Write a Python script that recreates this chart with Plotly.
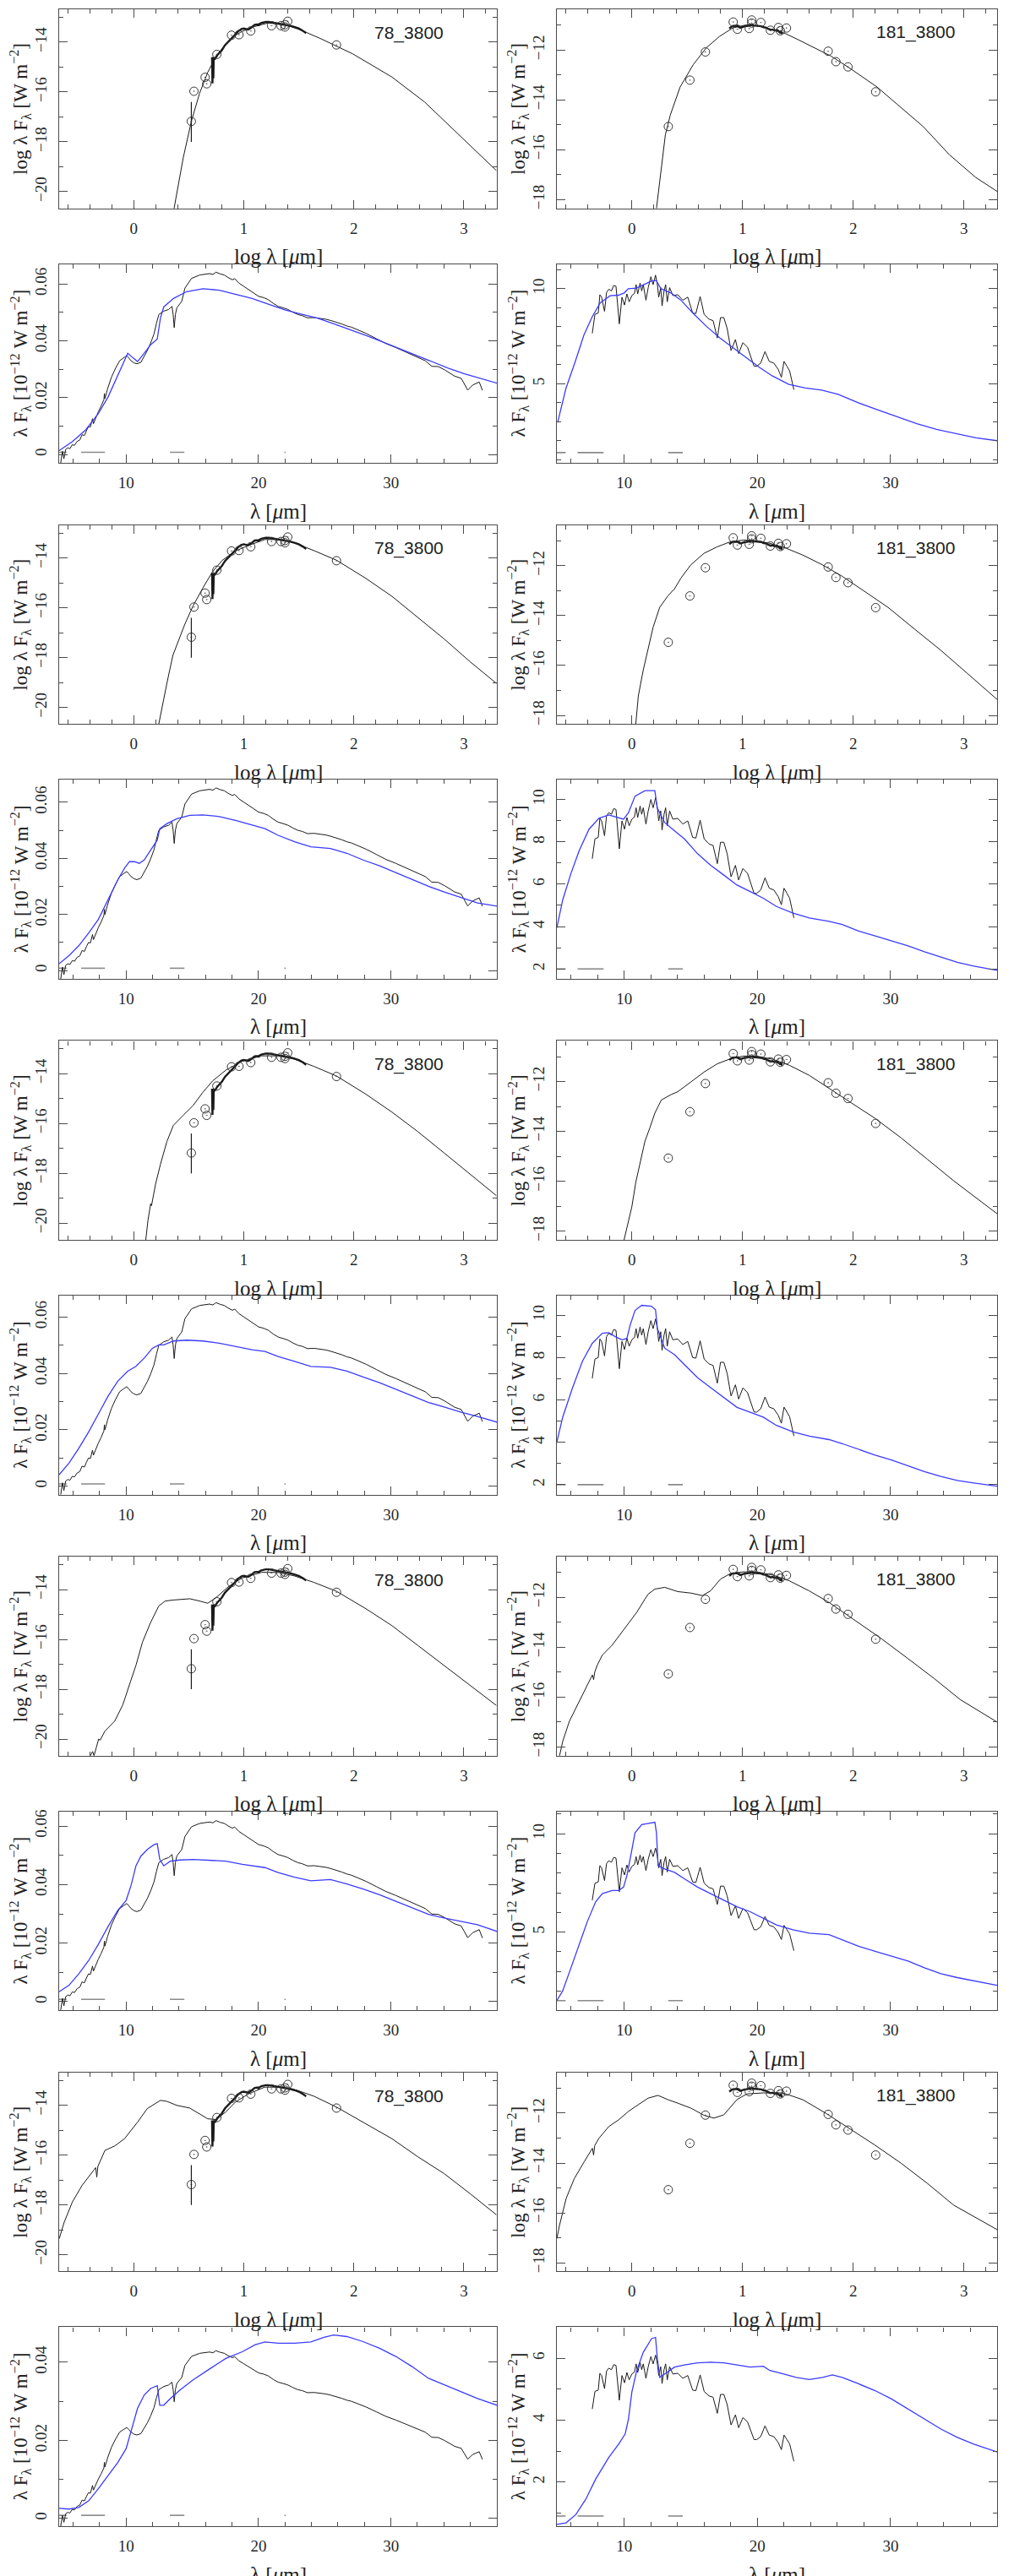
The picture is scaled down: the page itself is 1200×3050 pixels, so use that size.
import plotly.graph_objects as go

# ---------------------------------------------------------------
# photometry (log lambda [um], log lambda F_lambda [W m^-2])
# ---------------------------------------------------------------
phot78_x = [0.524, 0.548, 0.649, 0.664, 0.756, 0.889, 0.957, 1.064, 1.253, 1.339, 1.375, 1.375, 1.400, 1.843]
phot78_y = [-17.18, -15.97, -15.41, -15.67, -14.49, -13.72, -13.70, -13.55, -13.34, -13.34, -13.39, -13.30, -13.16, -14.11]
phot78_err_up = [0.78, 0, 0, 0, 0, 0, 0, 0, 0, 0, 0, 0, 0, 0]
phot78_err_dn = [0.82, 0, 0, 0, 0, 0, 0, 0, 0, 0, 0, 0, 0, 0]

phot181_x = [0.330, 0.525, 0.665, 0.916, 0.954, 1.061, 1.083, 1.083, 1.166, 1.252, 1.324, 1.342, 1.397, 1.774, 1.844, 1.953, 2.203]
phot181_y = [-15.07, -13.21, -12.08, -10.88, -11.17, -11.14, -10.80, -10.92, -10.90, -11.21, -11.10, -11.23, -11.12, -12.05, -12.47, -12.68, -13.68]

# ISO spectrum drawn thick in the log panels
iso78_logx = [0.712, 0.716, 0.720, 0.724, 0.728, 0.74, 0.76, 0.78, 0.80, 0.83, 0.86, 0.89, 0.92, 0.95, 0.98, 1.00,
              1.02, 1.04, 1.06, 1.08, 1.10, 1.12, 1.13, 1.135, 1.14, 1.16, 1.20, 1.23, 1.26, 1.30, 1.34, 1.38,
              1.42, 1.46, 1.50, 1.54, 1.567]
iso78_logy = [-14.6, -15.65, -14.75, -15.45, -14.62, -14.66, -14.52, -14.43, -14.33, -14.12, -13.99, -13.86, -13.71,
              -13.56, -13.47, -13.45, -13.48, -13.49, -13.44, -13.38, -13.30, -13.29, -13.29, -13.34, -13.28, -13.23,
              -13.19, -13.19, -13.21, -13.25, -13.28, -13.31, -13.34, -13.39, -13.45, -13.55, -13.64]
iso181_logx = [0.881, 0.89, 0.90, 0.914, 0.93, 0.95, 0.98, 1.00, 1.02, 1.04, 1.06, 1.08, 1.09, 1.10, 1.114, 1.13,
               1.146, 1.17, 1.19, 1.21, 1.23, 1.255, 1.27, 1.29, 1.314, 1.33, 1.338, 1.35, 1.357]
iso181_logy = [-11.14, -11.09, -11.07, -11.04, -11.03, -11.03, -11.11, -11.07, -11.05, -11.04, -11.03, -11.00, -11.00,
               -11.02, -11.03, -11.04, -11.04, -11.05, -11.09, -11.10, -11.15, -11.20, -11.18, -11.22, -11.20, -11.26,
               -11.30, -11.27, -11.36]

# ---------------------------------------------------------------
# model SEDs in the log panels, one per row
# ---------------------------------------------------------------
sed78_x = [
    [0.367, 0.45, 0.524, 0.599, 0.673, 0.747, 0.806, 0.895, 0.984, 1.102, 1.221, 1.369, 1.517, 1.695, 1.991, 2.347,
     2.643, 3.0, 3.295],
    [0.228, 0.258, 0.302, 0.356, 0.406, 0.465, 0.539, 0.628, 0.717, 0.806, 0.924, 1.043, 1.191, 1.31, 1.458, 1.636,
     1.843, 2.11, 2.347, 2.584, 2.821, 3.058, 3.295],
    [0.11, 0.13, 0.154, 0.162, 0.199, 0.243, 0.302, 0.361, 0.45, 0.539, 0.628, 0.717, 0.836, 0.984, 1.161, 1.31, 1.458,
     1.636, 1.843, 2.11, 2.347, 2.584, 2.821, 3.058, 3.295],
    [-0.394, -0.373, -0.36, -0.33, -0.318, -0.305, -0.261, -0.172, -0.098, -0.039, 0.021, 0.08, 0.154, 0.228, 0.287,
     0.361, 0.51, 0.598, 0.673, 0.747, 0.865, 0.984, 1.161, 1.31, 1.458, 1.636, 1.843, 2.11, 2.347, 2.584, 2.821,
     3.058, 3.295],
    [-0.676, -0.631, -0.557, -0.468, -0.364, -0.345, -0.335, -0.325, -0.261, -0.172, -0.083, 0.036, 0.124, 0.243,
     0.302, 0.391, 0.51, 0.598, 0.673, 0.747, 0.836, 0.924, 1.043, 1.191, 1.339, 1.487, 1.636, 1.843, 2.11, 2.347,
     2.584, 2.821, 3.058, 3.295],
]
sed78_y = [
    [-20.68, -18.65, -17.18, -16.05, -15.21, -14.59, -14.25, -13.80, -13.57, -13.37, -13.23, -13.29, -13.51, -13.85,
     -14.47, -15.40, -16.40, -17.90, -19.15],
    [-20.67, -19.95, -19.03, -17.91, -17.32, -16.66, -15.93, -15.21, -14.55, -14.09, -13.72, -13.50, -13.26, -13.26,
     -13.39, -13.70, -14.09, -14.82, -15.54, -16.39, -17.25, -18.17, -19.03],
    [-20.67, -19.88, -19.22, -19.30, -18.43, -17.64, -16.72, -16.07, -15.67, -15.28, -14.75, -14.29, -13.86, -13.50,
     -13.28, -13.28, -13.41, -13.70, -14.09, -14.82, -15.54, -16.33, -17.18, -18.04, -18.89],
    [-20.67, -20.50, -20.67, -20.20, -20.00, -20.05, -19.68, -19.28, -18.62, -17.83, -17.04, -16.11, -15.32, -14.66,
     -14.46, -14.42, -14.37, -14.46, -14.55, -14.33, -13.87, -13.54, -13.31, -13.31, -13.45, -13.71, -14.07, -14.77,
     -15.45, -16.25, -17.04, -17.83, -18.65],
    [-19.35, -18.69, -17.88, -17.21, -16.61, -16.50, -16.88, -16.45, -15.81, -15.63, -15.34, -14.67, -14.13, -13.80,
     -13.84, -14.00, -14.11, -14.33, -14.54, -14.57, -14.27, -13.87, -13.54, -13.27, -13.27, -13.40, -13.63, -14.07,
     -14.74, -15.34, -16.07, -16.74, -17.55, -18.39],
]
sed181_x = [
    [0.223, 0.258, 0.303, 0.347, 0.436, 0.555, 0.674, 0.792, 0.911, 1.03, 1.148, 1.267, 1.386, 1.504, 1.623, 1.801,
     1.979, 2.217, 2.395, 2.632, 2.869, 3.107, 3.3],
    [0.036, 0.059, 0.104, 0.148, 0.155, 0.193, 0.252, 0.326, 0.371, 0.38, 0.445, 0.534, 0.653, 0.772, 0.89, 1.009,
     1.128, 1.246, 1.395, 1.543, 1.721, 1.899, 2.077, 2.315, 2.552, 2.789, 3.027, 3.3],
    [-0.07, -0.03, 0.0, 0.036, 0.074, 0.119, 0.163, 0.208, 0.267, 0.356, 0.415, 0.534, 0.653, 0.772, 0.89, 1.009,
     1.128, 1.276, 1.424, 1.602, 1.78, 1.988, 2.196, 2.433, 2.671, 2.908, 3.3],
    [-0.653, -0.623, -0.564, -0.475, -0.38, -0.356, -0.345, -0.335, -0.312, -0.267, -0.178, -0.089, -0.03, 0.045,
     0.119, 0.148, 0.208, 0.297, 0.415, 0.534, 0.638, 0.712, 0.801, 0.89, 1.009, 1.128, 1.276, 1.424, 1.602, 1.78,
     2.018, 2.255, 2.493, 2.73, 2.967, 3.3],
    [-0.677, -0.653, -0.593, -0.519, -0.43, -0.356, -0.345, -0.335, -0.297, -0.208, -0.119, -0.03, 0.059, 0.148,
     0.237, 0.326, 0.415, 0.534, 0.653, 0.742, 0.831, 0.95, 1.039, 1.187, 1.365, 1.543, 1.751, 1.988, 2.196, 2.433,
     2.671, 2.908, 3.3],
]
sed181_y = [
    [-18.35, -17.11, -15.41, -14.62, -13.49, -12.59, -11.91, -11.46, -11.12, -11.00, -11.04, -11.18, -11.34, -11.59,
     -11.85, -12.25, -12.76, -13.49, -14.17, -15.07, -16.20, -17.11, -17.67],
    [-18.35, -17.22, -16.17, -15.32, -15.25, -14.46, -13.67, -13.21, -12.99, -12.97, -12.49, -11.96, -11.50, -11.24,
     -11.04, -10.97, -11.00, -11.10, -11.30, -11.57, -11.96, -12.42, -12.95, -13.67, -14.53, -15.38, -16.30, -17.36],
    [-18.35, -17.63, -17.03, -16.04, -15.32, -14.39, -13.86, -13.27, -12.74, -12.52, -12.41, -12.01, -11.62, -11.29,
     -11.09, -10.98, -10.98, -11.11, -11.35, -11.75, -12.28, -12.87, -13.47, -14.26, -15.12, -15.98, -17.30],
    [-18.36, -17.76, -16.97, -16.17, -15.30, -15.11, -15.30, -15.00, -14.72, -14.32, -13.92, -13.39, -13.06, -12.60,
     -12.07, -11.87, -11.67, -11.60, -11.77, -11.83, -11.93, -11.74, -11.27, -11.05, -10.98, -10.98, -11.11, -11.34,
     -11.74, -12.20, -12.93, -13.66, -14.45, -15.25, -16.10, -17.00],
    [-17.03, -16.50, -15.42, -14.62, -13.95, -13.41, -13.68, -13.30, -13.01, -12.54, -12.27, -11.93, -11.66, -11.40,
     -11.29, -11.46, -11.60, -11.80, -12.09, -12.20, -12.07, -11.46, -11.23, -11.19, -11.19, -11.46, -12.00, -12.67,
     -13.28, -14.01, -14.82, -15.69, -16.67],
]

# ---------------------------------------------------------------
# ISO spectra on a linear scale (lambda [um], 10^-12 W m^-2)
# ---------------------------------------------------------------
lam78 = [5.06, 5.19, 5.30, 5.43, 5.60, 5.75, 5.93, 6.10, 6.30, 6.50,
         6.67, 6.85, 7.00, 7.16, 7.30, 7.46, 7.53, 7.70, 7.90, 8.10,
         8.32, 8.36, 8.40, 8.60, 8.89, 9.20, 9.51, 9.80, 10.05, 10.20,
         10.37, 10.60, 10.81, 11.11, 11.35, 11.60, 11.85, 12.10, 12.30, 12.47,
         12.84, 13.21, 13.46, 13.55, 13.63, 13.72, 13.83, 14.20, 14.44, 14.94,
         15.56, 16.00, 16.30, 16.55, 16.79, 17.10, 17.41, 17.70, 18.02, 18.20,
         18.52, 18.90, 19.26, 19.60, 20.00, 20.40, 20.74, 21.10, 21.48, 21.85,
         22.22, 22.60, 22.96, 23.30, 23.70, 24.20, 24.69, 25.10, 25.43, 25.93,
         26.30, 26.67, 27.00, 27.41, 28.15, 28.89, 29.63, 30.37, 31.11, 31.85,
         32.59, 33.09, 33.58, 34.07, 34.81, 35.31, 35.80, 36.17, 36.67, 36.91]
flux78 = [-0.0030, 0.0012, -0.0015, 0.0018, 0.0024, 0.0021, 0.0035, 0.0033, 0.0047, 0.0052,
          0.0071, 0.0068, 0.0085, 0.0100, 0.0098, 0.0128, 0.0110, 0.0132, 0.0153, 0.0172,
          0.0196, 0.0218, 0.0200, 0.0235, 0.0276, 0.0308, 0.0335, 0.0345, 0.0353, 0.0345,
          0.0335, 0.0327, 0.0324, 0.0329, 0.0348, 0.0371, 0.0398, 0.0430, 0.0470, 0.0500,
          0.0512, 0.0518, 0.0529, 0.0500, 0.0453, 0.0500, 0.0524, 0.0547, 0.0594, 0.0629,
          0.0641, 0.0643, 0.0646, 0.0643, 0.0651, 0.0645, 0.0641, 0.0632, 0.0624, 0.0628,
          0.0612, 0.0600, 0.0588, 0.0578, 0.0565, 0.0560, 0.0553, 0.0540, 0.0529, 0.0524,
          0.0518, 0.0508, 0.0500, 0.0496, 0.0488, 0.0489, 0.0486, 0.0483, 0.0479, 0.0472,
          0.0466, 0.0459, 0.0455, 0.0447, 0.0432, 0.0414, 0.0396, 0.0382, 0.0366, 0.0349,
          0.0335, 0.0315, 0.0314, 0.0302, 0.0280, 0.0272, 0.0230, 0.0248, 0.0259, 0.0229]
# level of the spectrum in each linear row, relative to the 4th row
level78 = [0.985, 1.0, 1.0, 0.95, 0.66]

lam181 = [7.6, 7.8, 8.05, 8.17, 8.3, 8.52, 8.67, 8.84, 9.04, 9.21,
          9.38, 9.63, 9.83, 10.02, 10.2, 10.37, 10.57, 10.77, 10.89, 11.01,
          11.19, 11.31, 11.43, 11.63, 11.8, 12.0, 12.17, 12.35, 12.49, 12.59,
          12.74, 12.84, 12.99, 13.11, 13.23, 13.41, 13.65, 14.02, 14.4, 14.77,
          15.14, 15.38, 15.7, 16.0, 16.37, 16.67, 16.99, 17.23, 17.48, 17.73,
          18.02, 18.35, 18.59, 18.91, 19.26, 19.51, 19.75, 19.95, 20.25, 20.57,
          20.89, 21.23, 21.56, 21.8, 22.0, 22.22, 22.42, 22.74]
flux181 = [7.20, 8.14, 8.21, 9.11, 8.99, 8.29, 9.22, 9.38, 9.30, 9.57,
           9.53, 7.67, 8.99, 8.60, 9.15, 8.76, 9.07, 9.18, 9.61, 9.15,
           9.69, 9.30, 9.61, 8.84, 9.46, 10.00, 9.61, 10.08, 9.61, 8.99,
           9.46, 8.56, 9.30, 9.61, 8.76, 9.46, 9.07, 9.11, 8.84, 8.99,
           8.21, 8.18, 9.02, 8.14, 7.90, 7.83, 6.97, 7.98, 7.98, 7.44,
           6.35, 6.89, 6.20, 6.74, 6.51, 6.04, 5.57, 5.57, 5.73, 6.30,
           5.81, 5.73, 5.42, 5.03, 5.81, 5.57, 5.34, 4.41]
level181 = [1.063, 1.0, 0.975, 0.92, 0.605]

# ---------------------------------------------------------------
# model spectra (blue) in the linear panels, one per row
# ---------------------------------------------------------------
mod78_lam = [
    [4.94, 5.93, 6.91, 7.9, 8.64, 9.38, 10.12, 10.49, 10.86, 11.36, 11.85, 12.35, 12.59, 12.84, 13.58, 14.57, 15.8,
     17.04, 18.27, 19.51, 20.74, 21.98, 23.21, 24.44, 25.68, 26.91, 28.15, 29.38, 30.62, 31.85, 33.09, 34.32, 35.56,
     36.79, 38.02],
    [4.94, 5.68, 6.42, 7.16, 7.9, 8.64, 9.38, 9.88, 10.25, 10.62, 10.99, 11.36, 11.85, 12.35, 12.54, 13.09, 13.83,
     14.81, 15.8, 17.04, 18.27, 19.51, 20.49, 21.48, 22.72, 23.95, 25.43, 26.67, 27.9, 29.14, 30.37, 31.6, 32.84,
     34.07, 35.31, 36.54, 38.02],
    [4.94, 5.68, 6.42, 7.16, 7.9, 8.64, 9.38, 10.12, 10.74, 11.36, 11.98, 12.47, 12.84, 13.58, 14.57, 15.8, 17.04,
     18.27, 19.51, 20.49, 21.48, 22.72, 23.95, 25.43, 26.67, 27.9, 29.14, 30.37, 31.6, 32.84, 34.07, 35.31, 36.54,
     38.02],
    [4.94, 5.68, 6.42, 7.16, 7.9, 8.64, 9.38, 10.0, 10.37, 10.74, 11.11, 11.6, 12.1, 12.35, 12.54, 12.84, 13.33,
     14.07, 15.06, 16.3, 17.53, 18.77, 20.49, 21.48, 22.72, 23.95, 25.43, 26.67, 27.9, 29.14, 30.37, 31.6, 32.84,
     34.07, 35.31, 36.54, 38.02],
    [4.94, 5.68, 6.42, 7.16, 7.9, 8.64, 9.38, 10.0, 10.37, 10.86, 11.36, 11.85, 12.35, 12.54, 12.84, 13.33, 14.07,
     15.06, 16.3, 17.53, 18.77, 19.75, 20.49, 21.48, 22.72, 23.95, 24.94, 25.68, 26.67, 27.9, 29.14, 30.37, 31.6,
     32.84, 34.07, 35.31, 36.54, 38.02],
]
mod78_flux = [
    [0.0014, 0.0045, 0.0085, 0.0144, 0.0203, 0.0282, 0.0356, 0.0341, 0.0327, 0.0356, 0.0386, 0.0406, 0.0480, 0.0519,
     0.0549, 0.0573, 0.0583, 0.0578, 0.0564, 0.0549, 0.0529, 0.0509, 0.0494, 0.0480, 0.0460, 0.0440, 0.0418, 0.0396,
     0.0373, 0.0351, 0.0327, 0.0304, 0.0284, 0.0267, 0.0251],
    [0.0024, 0.0053, 0.0088, 0.0133, 0.0182, 0.0253, 0.0324, 0.0365, 0.0388, 0.0388, 0.0382, 0.0394, 0.0429, 0.0465,
     0.0506, 0.0524, 0.0541, 0.0553, 0.0555, 0.0549, 0.0535, 0.0518, 0.0506, 0.0482, 0.0459, 0.0441, 0.0435, 0.0418,
     0.0394, 0.0373, 0.0349, 0.0324, 0.0300, 0.0279, 0.0259, 0.0241, 0.0229],
    [0.0041, 0.0082, 0.0134, 0.0192, 0.0256, 0.0320, 0.0373, 0.0408, 0.0425, 0.0454, 0.0489, 0.0501, 0.0501, 0.0515,
     0.0518, 0.0515, 0.0507, 0.0495, 0.0484, 0.0478, 0.0460, 0.0443, 0.0425, 0.0422, 0.0408, 0.0387, 0.0367, 0.0344,
     0.0320, 0.0297, 0.0280, 0.0262, 0.0247, 0.0227],
    [0.0034, 0.0056, 0.0095, 0.0140, 0.0196, 0.0257, 0.0313, 0.0346, 0.0397, 0.0464, 0.0497, 0.0520, 0.0536, 0.0540,
     0.0486, 0.0464, 0.0480, 0.0484, 0.0486, 0.0484, 0.0480, 0.0469, 0.0458, 0.0441, 0.0425, 0.0413, 0.0417, 0.0402,
     0.0385, 0.0365, 0.0343, 0.0321, 0.0298, 0.0285, 0.0274, 0.0263, 0.0240],
    [0.0026, 0.0024, 0.0028, 0.0045, 0.0076, 0.0110, 0.0144, 0.0179, 0.0221, 0.0282, 0.0316, 0.0333, 0.0340, 0.0290,
     0.0290, 0.0307, 0.0329, 0.0355, 0.0383, 0.0410, 0.0427, 0.0445, 0.0452, 0.0449, 0.0449, 0.0452, 0.0464, 0.0470,
     0.0466, 0.0453, 0.0436, 0.0415, 0.0389, 0.0359, 0.0342, 0.0324, 0.0307, 0.0290],
]
mod181_lam = [
    [5.0, 5.62, 6.35, 6.97, 7.59, 8.2, 8.94, 9.56, 10.0, 10.3, 10.91, 11.53, 12.02, 12.39, 12.76, 13.5, 14.24, 15.22,
     16.21, 17.19, 18.18, 19.16, 20.15, 21.13, 22.36, 23.6, 24.83, 26.06, 27.54, 29.01, 30.49, 31.97, 33.45, 34.93,
     36.4, 38.0],
    [4.94, 5.38, 6.0, 6.62, 7.36, 8.1, 8.84, 9.46, 9.95, 10.32, 10.81, 11.56, 12.3, 12.47, 13.04, 13.78, 14.52, 15.51,
     16.49, 17.48, 18.47, 19.46, 20.44, 21.43, 22.67, 23.9, 25.38, 26.37, 27.6, 28.84, 30.07, 31.31, 32.54, 33.78,
     35.01, 36.25, 38.0],
    [4.94, 5.38, 6.12, 6.86, 7.6, 8.35, 8.84, 9.33, 9.83, 10.2, 10.44, 10.81, 11.31, 12.05, 12.35, 12.49, 13.04, 13.78,
     14.52, 15.51, 16.49, 17.48, 18.47, 19.46, 20.44, 21.43, 22.67, 23.9, 25.38, 26.37, 27.6, 28.84, 30.07, 31.31,
     32.54, 33.78, 35.01, 36.25, 38.0],
    [4.94, 5.38, 6.0, 6.62, 7.23, 7.85, 8.35, 9.09, 9.58, 9.95, 10.2, 10.44, 10.81, 11.31, 12.05, 12.3, 12.42, 12.54,
     13.04, 13.78, 14.52, 15.51, 16.49, 17.48, 18.47, 19.46, 20.44, 21.43, 22.67, 23.9, 25.38, 26.37, 27.6, 28.84,
     30.07, 31.31, 32.54, 33.78, 35.01, 36.25, 38.0],
    [4.94, 5.63, 6.37, 7.11, 7.85, 8.84, 9.58, 10.07, 10.32, 10.57, 10.94, 11.43, 12.05, 12.35, 12.49, 12.67, 13.04,
     13.78, 14.52, 15.51, 16.49, 17.48, 18.47, 19.46, 20.44, 20.94, 21.93, 22.91, 23.9, 24.89, 25.63, 26.37, 27.6,
     28.84, 30.07, 31.31, 32.54, 33.78, 35.01, 36.25, 38.0],
]
mod181_flux = [
    [2.97, 4.75, 6.23, 7.56, 8.52, 9.26, 9.63, 9.66, 9.78, 10.0, 10.03, 10.22, 10.40, 10.44, 10.0, 9.78, 9.41, 8.67,
     8.00, 7.41, 6.89, 6.38, 5.86, 5.41, 4.97, 4.78, 4.67, 4.45, 4.01, 3.64, 3.27, 2.90, 2.60, 2.38, 2.16, 2.01],
    [3.94, 5.26, 6.51, 7.59, 8.60, 9.11, 9.27, 9.15, 9.07, 9.38, 10.16, 10.42, 10.42, 9.61, 8.91, 8.52, 8.14, 7.44,
     6.89, 6.43, 5.96, 5.65, 5.34, 4.95, 4.64, 4.41, 4.25, 4.10, 3.79, 3.56, 3.32, 3.09, 2.81, 2.55, 2.31, 2.13, 1.93],
    [4.02, 5.19, 6.58, 7.83, 8.68, 9.15, 9.18, 8.99, 8.84, 8.91, 9.53, 10.23, 10.47, 10.43, 10.26, 9.38, 8.45, 8.14,
     7.67, 7.05, 6.58, 6.12, 5.65, 5.42, 5.19, 4.80, 4.49, 4.29, 4.13, 3.94, 3.66, 3.40, 3.17, 2.89, 2.62, 2.39, 2.20,
     2.08, 1.93],
    [1.52, 2.02, 3.19, 4.36, 5.54, 6.54, 6.96, 7.12, 7.12, 7.29, 7.88, 8.71, 10.05, 10.47, 10.55, 10.59, 10.05, 8.38,
     8.21, 8.04, 7.71, 7.29, 6.96, 6.62, 6.29, 6.04, 5.70, 5.37, 5.12, 4.95, 4.87, 4.62, 4.28, 4.03, 3.78, 3.53, 3.19,
     2.89, 2.69, 2.53, 2.30],
    [0.63, 0.68, 0.95, 1.44, 2.09, 2.79, 3.22, 3.55, 4.03, 4.90, 5.60, 6.19, 6.63, 6.67, 5.98, 5.38, 5.49, 5.71, 5.78,
     5.85, 5.87, 5.85, 5.78, 5.71, 5.74, 5.60, 5.49, 5.38, 5.31, 5.38, 5.46, 5.38, 5.17, 4.95, 4.68, 4.36, 4.03, 3.71,
     3.44, 3.22, 2.97],
]

# grey wavelength-coverage bars at the foot of the linear panels
bars78 = [[4.94, 5.5], [6.6, 8.4], [13.3, 14.4], [21.95, 22.05]]
bars78_level = [0.0008, 0.0008, 0.0008, 0.0008, 0.0008]
bars181 = [[4.94, 5.6], [6.5, 8.45], [13.3, 14.4]]
bars181_level = [1.38, 2.0, 2.0, 1.52, 0.9]

# ---------------------------------------------------------------
# page geometry and styling
# ---------------------------------------------------------------
W, H = 1200, 3050
AX = "#4a4a4a"
INK = "#1a1a1a"
BLUE = "#3b3bff"
SERIF = "Liberation Serif, DejaVu Serif, serif"
SANS = "Liberation Sans, Arial, sans-serif"

log_xrange = [-0.677, 3.3]
log_yrange = [[-20.67, -12.68], [-18.35, -10.37]]
lin_xrange = [4.94, 38.0]
lin_yrange = [
    [[-0.003, 0.067], [-0.003, 0.068], [-0.003, 0.0676], [-0.003, 0.065], [-0.002, 0.049]],
    [[0.83, 11.3], [1.53, 10.93], [1.53, 10.93], [1.02, 11.14], [0.57, 7.0]],
]
lin_ydtick = [[0.02] * 5, [5, 2, 2, 5, 2]]
lin_yminor = [[0.01] * 5, [1] * 5]

LOG_YTITLE = "log λ F<sub>λ</sub> [W m<sup>−2</sup>]"
LIN_YTITLE = "λ F<sub>λ</sub> [10<sup>−12</sup> W m<sup>−2</sup>]"
LOG_XTITLE = "log λ [<i>μ</i>m]"
LIN_XTITLE = "λ [<i>μ</i>m]"


def axis(domain, anchor, rng, dtick, minor_dtick, angle):
    return dict(
        domain=domain, anchor=anchor, range=rng, dtick=dtick, tick0=0,
        showline=True, linecolor=AX, linewidth=1.3, mirror="ticks",
        ticks="inside", ticklen=10, tickwidth=1.2, tickcolor=AX,
        minor=dict(ticks="inside", ticklen=5, tickwidth=1, tickcolor=AX,
                   dtick=minor_dtick, tick0=0, showgrid=False),
        showgrid=False, zeroline=False, tickangle=angle, ticklabelstandoff=6,
        tickfont=dict(family=SERIF, size=19, color="#2a2a2a"),
    )


def line(x, y, xa, ya, color=INK, width=1.0):
    return go.Scatter(x=x, y=y, mode="lines", line=dict(color=color, width=width),
                      xaxis=xa, yaxis=ya, showlegend=False, hoverinfo="skip")


fig = go.Figure()
axes = {}
notes = []

for k in range(10):
    pair, lin = divmod(k, 2)
    top = 1 + 611.5 * pair + (302 if lin else 0)
    bot = top + 236
    ydom = [1 - bot / H, 1 - top / H]
    for col in (0, 1):
        n = 2 * k + col + 1
        sfx = "" if n == 1 else str(n)
        xa, ya = "x" + sfx, "y" + sfx
        xl, xr = (62, 580) if col == 0 else (651, 1172)
        xdom = [xl / W, xr / W]

        if not lin:
            axes["xaxis" + sfx] = axis(xdom, ya, log_xrange, 1, 0.2, 0)
            axes["yaxis" + sfx] = axis(ydom, xa, log_yrange[col], 2, 1, -90)
            mx = sed78_x[pair] if col == 0 else sed181_x[pair]
            my = sed78_y[pair] if col == 0 else sed181_y[pair]
            fig.add_trace(line(mx, my, xa, ya))
            if col == 0:
                fig.add_trace(line(iso78_logx, iso78_logy, xa, ya, width=2.4))
                fig.add_trace(go.Scatter(
                    x=phot78_x, y=phot78_y, mode="markers", xaxis=xa, yaxis=ya,
                    marker=dict(symbol="circle-open-dot", size=10, color="#333333", line=dict(width=1)),
                    error_y=dict(type="data", symmetric=False, array=phot78_err_up,
                                 arrayminus=phot78_err_dn, width=0, thickness=1.2, color=INK),
                    showlegend=False, hoverinfo="skip"))
                notes.append(dict(x=2.5, y=-13.62, xref=xa, yref=ya, text="78_3800", showarrow=False,
                                  font=dict(family=SANS, size=21, color="#222222")))
            else:
                fig.add_trace(line(iso181_logx, iso181_logy, xa, ya, width=2.4))
                fig.add_trace(go.Scatter(
                    x=phot181_x, y=phot181_y, mode="markers", xaxis=xa, yaxis=ya,
                    marker=dict(symbol="circle-open-dot", size=10, color="#333333", line=dict(width=1)),
                    showlegend=False, hoverinfo="skip"))
                notes.append(dict(x=2.56, y=-11.29, xref=xa, yref=ya, text="181_3800", showarrow=False,
                                  font=dict(family=SANS, size=21, color="#222222")))
            xtitle, ytitle = LOG_XTITLE, LOG_YTITLE
        else:
            axes["xaxis" + sfx] = axis(xdom, ya, lin_xrange, 10, 2, 0)
            axes["yaxis" + sfx] = axis(ydom, xa, lin_yrange[col][pair],
                                       lin_ydtick[col][pair], lin_yminor[col][pair], -90)
            if col == 0:
                lam, flux, lev = lam78, flux78, level78[pair]
                blam, bflux = mod78_lam[pair], mod78_flux[pair]
                bars, blev = bars78, bars78_level[pair]
            else:
                lam, flux, lev = lam181, flux181, level181[pair]
                blam, bflux = mod181_lam[pair], mod181_flux[pair]
                bars, blev = bars181, bars181_level[pair]
            bx, by = [], []
            for a, b in bars:
                bx += [a, b, None]
                by += [blev, blev, None]
            fig.add_trace(line(bx, by, xa, ya, color="#8a8a8a", width=1.6))
            fig.add_trace(line(lam, [v * lev for v in flux], xa, ya))
            fig.add_trace(line(blam, bflux, xa, ya, color=BLUE, width=1.3))
            xtitle, ytitle = LIN_XTITLE, LIN_YTITLE

        # axis titles
        notes.append(dict(x=(xl + xr) / 2 / W, y=1 - (bot + 57) / H, xref="paper", yref="paper",
                          text=xtitle, showarrow=False, xanchor="center", yanchor="middle",
                          font=dict(family=SERIF, size=25, color="#222222")))
        notes.append(dict(x=(xl - 46) / W, y=1 - (top + bot) / 2 / H, xref="paper", yref="paper",
                          text=ytitle, showarrow=False, textangle=-90, xanchor="center", yanchor="middle",
                          font=dict(family=SERIF, size=23, color="#222222")))

fig.update_layout(
    width=W, height=H, margin=dict(l=0, r=0, t=0, b=0),
    paper_bgcolor="white", plot_bgcolor="white",
    annotations=notes, showlegend=False, **axes,
)

fig.write_html("out.html")
